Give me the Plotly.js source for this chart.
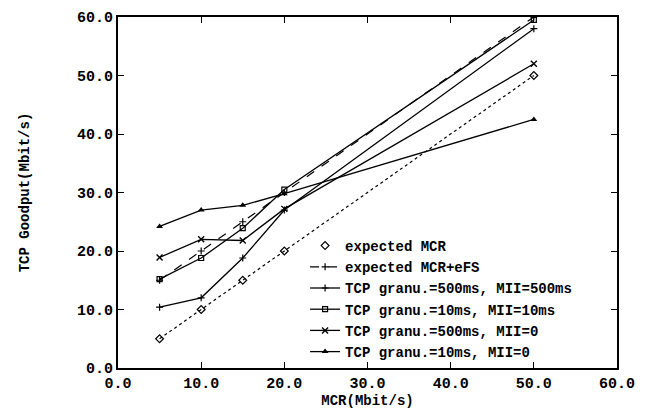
<!DOCTYPE html>
<html>
<head>
<meta charset="utf-8">
<script src="https://cdn.plot.ly/plotly-3.0.1.min.js"></script>
<style>html,body{margin:0;padding:0;background:#fff;}#chart{width:650px;height:409px;}</style>
</head>
<body>
<div id="chart"></div>
<script>
// MCR values (x axis, Mbit/s)
const mcr = [5, 10, 15, 20, 50];
// Series values (TCP Goodput, Mbit/s)
const expectedMCR = [5, 10, 15, 20, 50];
const expectedMCReFS = [15, 20, 25, 30, 60];
const gran500MII500 = [10.4, 12.0, 18.8, 27.0, 58.0];
const gran10MII10 = [15.2, 18.8, 23.9, 30.5, 59.5];
const gran500MII0 = [18.9, 22.0, 21.8, 27.2, 52.0];
const gran10MII0 = [24.2, 27.0, 27.8, 29.8, 42.5];
// Names
const seriesNames = [
  'expected MCR',
  'expected MCR+eFS',
  'TCP granu.=500ms, MII=500ms',
  'TCP granu.=10ms, MII=10ms',
  'TCP granu.=500ms, MII=0',
  'TCP granu.=10ms, MII=0'
];
const tickVals = [0, 10, 20, 30, 40, 50, 60];

const FONT = 'Liberation Mono, Courier New, monospace';
const black = '#000';

const traces = [
  {x: mcr, y: expectedMCR, mode: 'lines', showlegend: false, hoverinfo: 'skip',
   line: {color: black, width: 1.2, dash: 'dot'}},
  {x: mcr, y: expectedMCR, mode: 'markers', name: seriesNames[0],
   marker: {symbol: 'diamond-open', size: 6, color: black, line: {width: 1.2, color: black}}},
  {x: mcr, y: expectedMCReFS, mode: 'lines+markers', name: seriesNames[1],
   line: {color: black, width: 1.2, dash: 'dash'},
   marker: {symbol: 'cross-thin-open', size: 5, color: black, line: {width: 1.2, color: black}}},
  {x: mcr, y: gran500MII500, mode: 'lines+markers', name: seriesNames[2],
   line: {color: black, width: 1.3},
   marker: {symbol: 'cross-thin-open', size: 5, color: black, line: {width: 1.2, color: black}}},
  {x: mcr, y: gran10MII10, mode: 'lines+markers', name: seriesNames[3],
   line: {color: black, width: 1.3},
   marker: {symbol: 'square-open', size: 5, color: black, line: {width: 1.2, color: black}}},
  {x: mcr, y: gran500MII0, mode: 'lines+markers', name: seriesNames[4],
   line: {color: black, width: 1.3},
   marker: {symbol: 'x-thin-open', size: 6, color: black, line: {width: 1.4, color: black}}},
  {x: mcr, y: gran10MII0, mode: 'lines+markers', name: seriesNames[5],
   line: {color: black, width: 1.3},
   marker: {symbol: 'triangle-up', size: 6, color: black}}
];

const axisCommon = {
  range: [0, 60],
  tickvals: tickVals,
  tickformat: '.1f',
  ticks: 'inside',
  ticklen: 6,
  tickwidth: 1,
  tickcolor: black,
  showline: true,
  linewidth: 2,
  linecolor: black,
  mirror: 'ticks',
  showgrid: false,
  zeroline: false,
  tickfont: {family: FONT, size: 15, color: black, weight: 'bold'}
};

const layout = {
  width: 650,
  height: 409,
  margin: {l: 118, r: 33, t: 17, b: 41},
  paper_bgcolor: '#fff',
  plot_bgcolor: '#fff',
  font: {family: FONT, size: 14, color: black, weight: 'bold'},
  showlegend: true,
  xaxis: Object.assign({}, axisCommon, {
    title: {text: 'MCR(Mbit/s)', standoff: 0, font: {family: FONT, size: 14, color: black, weight: 'bold'}}
  }),
  yaxis: Object.assign({}, axisCommon, {
    title: {text: 'TCP Goodput(Mbit/s)', standoff: 44, font: {family: FONT, size: 14, color: black, weight: 'bold'}}
  }),
  legend: {
    x: 0.92, xanchor: 'right',
    y: 0.0, yanchor: 'bottom',
    bgcolor: 'rgba(255,255,255,0)',
    font: {family: FONT, size: 14, color: black, weight: 'bold'},
    itemwidth: 30,
    tracegroupgap: 0
  }
};

Plotly.newPlot('chart', traces, layout, {displayModeBar: false, staticPlot: true});
</script>
</body>
</html>
